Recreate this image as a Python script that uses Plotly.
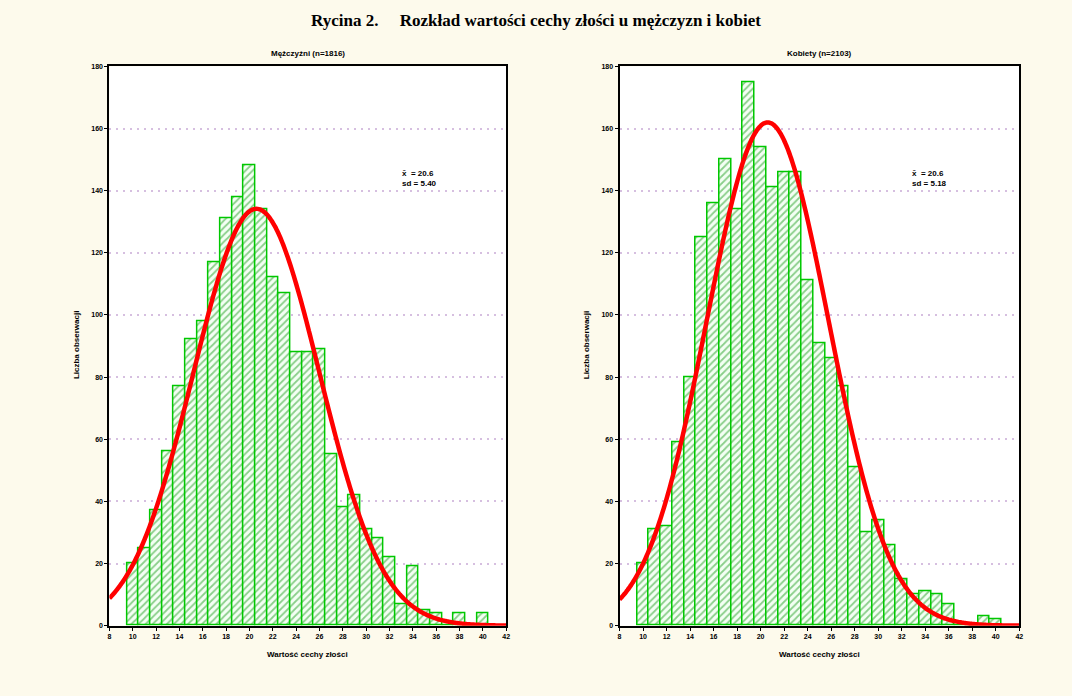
import math
import plotly.graph_objects as go

# Histogram bins (centres, width 1) and counts for each group
bin_centres = list(range(10, 41))
men_counts = [20, 25, 37, 56, 77, 92, 98, 117, 131, 138, 148, 134, 112, 107, 88,
              88, 89, 55, 38, 42, 31, 28, 22, 7, 19, 5, 4, 0, 4, 0, 4]
women_counts = [20, 31, 32, 59, 80, 125, 136, 150, 134, 175, 154, 141, 146, 146, 111,
                91, 86, 77, 51, 30, 34, 26, 15, 10, 11, 10, 7, 0, 0, 3, 2]

# Summary statistics printed on each panel
men_n, men_mean, men_sd = 1816, 20.6, 5.40
women_n, women_mean, women_sd = 2103, 20.6, 5.18

x_ticks = list(range(8, 43, 2))
y_ticks = list(range(0, 181, 20))

main_title = "Rycina 2.     Rozkład wartości cechy złości u mężczyzn i kobiet"
panel_titles = [f"Mężczyźni (n={men_n})", f"Kobiety (n={women_n})"]
x_title = "Wartość cechy złości"
y_title = "Liczba obserwacji"

W, H = 1072, 696
GREEN = "#00C800"
RED = "#FF0000"


def normal_curve(n, mean, sd, lo=8.0, hi=42.0, steps=340):
    xs = [lo + (hi - lo) * i / steps for i in range(steps + 1)]
    ys = [n / (sd * math.sqrt(2 * math.pi)) * math.exp(-0.5 * ((x - mean) / sd) ** 2) for x in xs]
    return xs, ys


fig = go.Figure()

panels = [
    (men_counts, men_n, men_mean, men_sd, "x", "y", (108, 507)),
    (women_counts, women_n, women_mean, women_sd, "x2", "y2", (621, 1023)),
]
top_px, bottom_px = 63, 628

for counts, n, mean, sd, xa, ya, (l_px, r_px) in panels:
    fig.add_trace(go.Bar(
        x=bin_centres, y=counts, width=1, xaxis=xa, yaxis=ya,
        marker=dict(color="white",
                    line=dict(color=GREEN, width=1.5),
                    pattern=dict(shape="/", fgcolor="#1E9E1E", bgcolor="#F4FFF4",
                                 size=5, solidity=0.35)),
        showlegend=False, hoverinfo="skip",
    ))
    cx, cy = normal_curve(n, mean, sd)
    fig.add_trace(go.Scatter(
        x=cx, y=cy, mode="lines", xaxis=xa, yaxis=ya,
        line=dict(color=RED, width=4.5, shape="spline"),
        showlegend=False, hoverinfo="skip",
    ))

axis_common = dict(
    showline=True, linecolor="black", linewidth=2, mirror=True,
    ticks="outside", ticklen=3, tickcolor="black", tickwidth=1,
    tickfont=dict(family="Liberation Sans", size=7, color="black", weight="bold"),
    zeroline=False,
)

layout = dict(
    width=W, height=H,
    margin=dict(l=0, r=0, t=0, b=0),
    paper_bgcolor="#FDFAEC",
    plot_bgcolor="white",
    bargap=0,
    title=dict(text=main_title, x=0.5, xanchor="center", y=1 - 20 / H, yanchor="middle",
               font=dict(family="Liberation Serif", size=17, color="black", weight="bold")),
)

for i, (counts, n, mean, sd, xa, ya, (l_px, r_px)) in enumerate(panels):
    xkey = "xaxis" if i == 0 else "xaxis2"
    ykey = "yaxis" if i == 0 else "yaxis2"
    layout[xkey] = dict(axis_common, domain=[l_px / W, r_px / W], range=[8, 42],
                        tickvals=x_ticks, showgrid=False,
                        anchor="y" if i == 0 else "y2")
    layout[ykey] = dict(axis_common, domain=[1 - bottom_px / H, 1 - top_px / H], range=[0, 180],
                        tickvals=y_ticks, showgrid=True, gridcolor="#D6BFE0",
                        griddash="2px,5px", gridwidth=1.5,
                        anchor="x" if i == 0 else "x2")

fig.update_layout(**layout)

ann_font = dict(family="Liberation Sans", size=8, color="black", weight="bold")
annotations = []
for i, (counts, n, mean, sd, xa, ya, (l_px, r_px)) in enumerate(panels):
    mid = (l_px + r_px) / 2 / W
    annotations.append(dict(text=panel_titles[i], xref="paper", yref="paper", x=mid, y=1 - 50 / H,
                            showarrow=False, font=ann_font, xanchor="center", yanchor="middle"))
    annotations.append(dict(text=x_title, xref="paper", yref="paper", x=mid, y=1 - 657 / H,
                            showarrow=False, font=ann_font, xanchor="center", yanchor="middle"))
    annotations.append(dict(text=y_title, xref="paper", yref="paper", x=(l_px - 33) / W,
                            y=1 - 345 / H, textangle=-90, showarrow=False, font=ann_font,
                            xanchor="center", yanchor="middle"))
    annotations.append(dict(text=f"x̄  = {mean:.1f}<br>sd = {sd:.2f}", xref="paper", yref="paper",
                            x=(l_px + 292) / W, y=1 - 176 / H, align="left", showarrow=False,
                            font=ann_font, xanchor="left", yanchor="middle"))
fig.update_layout(annotations=annotations)

fig.write_html("out.html")
